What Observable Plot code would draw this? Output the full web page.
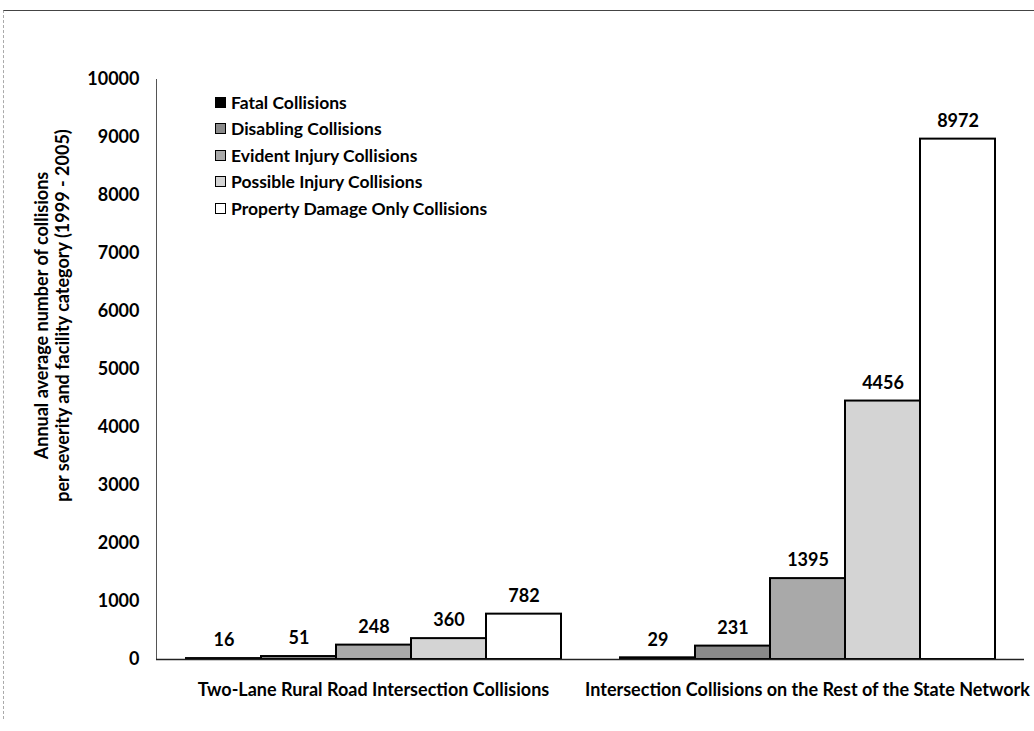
<!DOCTYPE html>
<html>
<head>
<meta charset="utf-8">
<script src="https://cdn.jsdelivr.net/npm/d3@7"></script>
<script src="https://cdn.jsdelivr.net/npm/@observablehq/plot@0.6"></script>
<style>
  html, body { margin: 0; padding: 0; background: #fff; }
  #wrap { position: relative; width: 1034px; height: 731px; overflow: hidden; font-family: Lato, "Open Sans", sans-serif; }
  #frame { position: absolute; left: 3px; top: 10px; right: -2px; bottom: 12px; border-top: 1.5px solid #444; border-left: 1px dashed #aaa; pointer-events: none; }
  #legend { position: absolute; left: 215px; top: 89px; font: bold 17.5px Lato, sans-serif; color: #000; }
  #legend .row { display: flex; align-items: center; height: 26.5px; white-space: nowrap; }
  #legend .sw { width: 9px; height: 9px; border: 1.5px solid #000; margin-right: 5px; box-sizing: content-box; }
  svg { position: absolute; left: 0; top: 0; }
</style>
</head>
<body>
<div id="wrap"><div id="frame"></div><div id="legend"></div></div>
<script>
// Data
const groups = ["Two-Lane Rural Road Intersection Collisions", "Intersection Collisions on the Rest of the State Network"];
const severities = ["Fatal Collisions", "Disabling Collisions", "Evident Injury Collisions", "Possible Injury Collisions", "Property Damage Only Collisions"];
const ruralValues = [16, 51, 248, 360, 782];
const stateValues = [29, 231, 1395, 4456, 8972];
const yTicks = [0, 1000, 2000, 3000, 4000, 5000, 6000, 7000, 8000, 9000, 10000];
const yLabel = "Annual average number of collisions\nper severity and facility category (1999 - 2005)";
const fills = ["#000000", "#8a8a8a", "#a9a9a9", "#d4d4d4", "#ffffff"];

const data = [];
severities.forEach((s, i) => data.push({group: groups[0], severity: s, value: ruralValues[i]}));
severities.forEach((s, i) => data.push({group: groups[1], severity: s, value: stateValues[i]}));

const chart = Plot.plot({
  width: 1034,
  height: 731,
  marginLeft: 155,
  marginRight: 10,
  marginTop: 79,
  marginBottom: 72,
  style: {fontFamily: "Lato, sans-serif", fontWeight: "bold", fontSize: "18px", color: "#000", background: "transparent"},
  fx: {domain: groups, paddingInner: 0, paddingOuter: 0, label: null},
  x: {domain: severities, paddingInner: 0, paddingOuter: 0.39, axis: null},
  y: {domain: [0, 10000], label: null},
  color: {domain: severities, range: fills},
  marks: [
    Plot.frame({anchor: "left", facetAnchor: "left", stroke: "#555", strokeWidth: 1, strokeDasharray: "2,1"}),
    Plot.axisY({ticks: yTicks, tickSize: 0, tickPadding: 17, tickFormat: d => String(d), label: null, fontSize: 18, fontWeight: "bold"}),
    Plot.axisFx({anchor: "bottom", tickSize: 0, tickPadding: 24, label: null, fontSize: 18, fontWeight: "bold"}),
    Plot.text([yLabel], {frameAnchor: "left", facetAnchor: "left", rotate: -90, dx: -105, dy: -54, fontSize: 18, fontWeight: "bold", lineHeight: 1.2, textAnchor: "middle"}),
    Plot.barY(data, {fx: "group", x: "severity", y: "value", fill: "severity", stroke: "#000", strokeWidth: 2}),
    Plot.ruleY([0], {stroke: "#222", strokeWidth: 1.5}),
    Plot.text(data, {fx: "group", x: "severity", y: "value", text: d => String(d.value), dy: -18, fontSize: 18, fontWeight: "bold", fill: "#000"})
  ]
});
document.getElementById("wrap").appendChild(chart);

// Legend
const legend = document.getElementById("legend");
severities.forEach((s, i) => {
  const row = document.createElement("div");
  row.className = "row";
  const sw = document.createElement("span");
  sw.className = "sw";
  sw.style.background = fills[i];
  const t = document.createElement("span");
  t.textContent = s;
  row.appendChild(sw);
  row.appendChild(t);
  legend.appendChild(row);
});
</script>
</body>
</html>
